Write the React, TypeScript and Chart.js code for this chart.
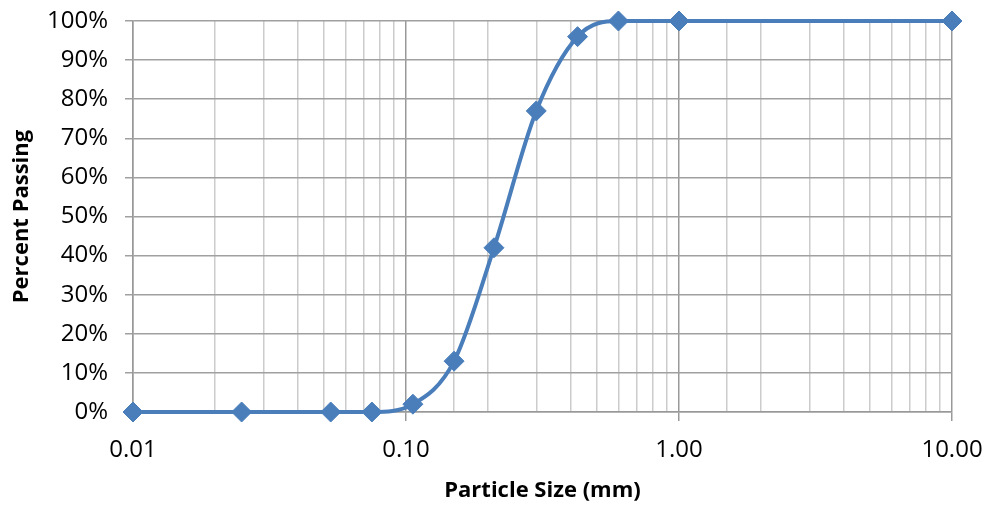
import React, { useEffect, useRef } from "react";
import { Chart, registerables } from "chart.js";

Chart.register(...registerables);

const particleSizes = [0.01, 0.025, 0.053, 0.075, 0.106, 0.15, 0.21, 0.3, 0.425, 0.6, 1.0, 10];
const percentPassing = [0, 0, 0, 0, 2, 13, 42, 77, 96, 100, 100, 100];
const xTitle = "Particle Size (mm)";
const yTitle = "Percent Passing";

const isMajor = (v: number) => {
  const l = Math.log10(v);
  return Math.abs(l - Math.round(l)) < 1e-6;
};

export default function App() {
  const ref = useRef<HTMLCanvasElement | null>(null);
  useEffect(() => {
    document.body.style.margin = "0";
    const ctx = ref.current!.getContext("2d")!;
    const font = "'Open Sans', sans-serif";
    const chart = new Chart(ctx, {
      type: "line",
      data: {
        datasets: [
          {
            data: particleSizes.map((x, i) => ({ x, y: percentPassing[i] })),
            borderColor: "#4a7ebb",
            backgroundColor: "#4a7ebb",
            borderWidth: 4,
            pointStyle: "rectRot",
            pointRadius: 10,
            pointBorderWidth: 1,
            cubicInterpolationMode: "monotone",
            clip: false as any,
          },
        ],
      },
      options: {
        animation: false,
        responsive: false,
        layout: { padding: { top: 21, right: 35, left: 0, bottom: 0 } },
        plugins: { legend: { display: false }, tooltip: { enabled: false } },
        scales: {
          x: {
            type: "logarithmic",
            min: 0.01,
            max: 10,
            afterFit: (s: any) => {
              s.height = 94;
              s.paddingLeft = 0;
              s.paddingRight = 0;
            },
            grid: {
              color: (c: any) => (c.tick && isMajor(c.tick.value) ? "#999999" : "#cccccc"),
              tickColor: (c: any) => (c.tick && isMajor(c.tick.value) ? "#999999" : "rgba(0,0,0,0)"),
              lineWidth: 1.5,
              tickLength: 9,
            },
            border: { color: "#999999", width: 1.5 },
            ticks: {
              autoSkip: false,
              maxRotation: 0,
              padding: 15,
              color: "#000",
              font: { family: font, size: 24 },
              callback: (v: any) => (isMajor(Number(v)) ? Number(v).toFixed(2) : ""),
            },
            title: {
              display: true,
              text: xTitle,
              color: "#000",
              font: { family: font, size: 22, weight: "bold" },
              padding: { top: 0, bottom: 2 },
            },
          },
          y: {
            min: 0,
            max: 100,
            afterFit: (s: any) => {
              s.width = 133;
              s.paddingTop = 0;
              s.paddingBottom = 0;
            },
            grid: { color: "#a0a0a0", lineWidth: 1.5, tickLength: 8 },
            border: { color: "#999999", width: 1.5 },
            ticks: {
              stepSize: 10,
              padding: 17,
              color: "#000",
              font: { family: font, size: 24 },
              callback: (v: any) => `${v}%`,
            },
            title: {
              display: true,
              text: yTitle,
              color: "#000",
              font: { family: font, size: 22, weight: "bold" },
              padding: { top: 9, bottom: 0 },
            },
          },
        },
      },
    });
    return () => chart.destroy();
  }, []);
  return (
    <div style={{ width: 987, height: 506 }}>
      <canvas ref={ref} width={987} height={506} />
    </div>
  );
}
